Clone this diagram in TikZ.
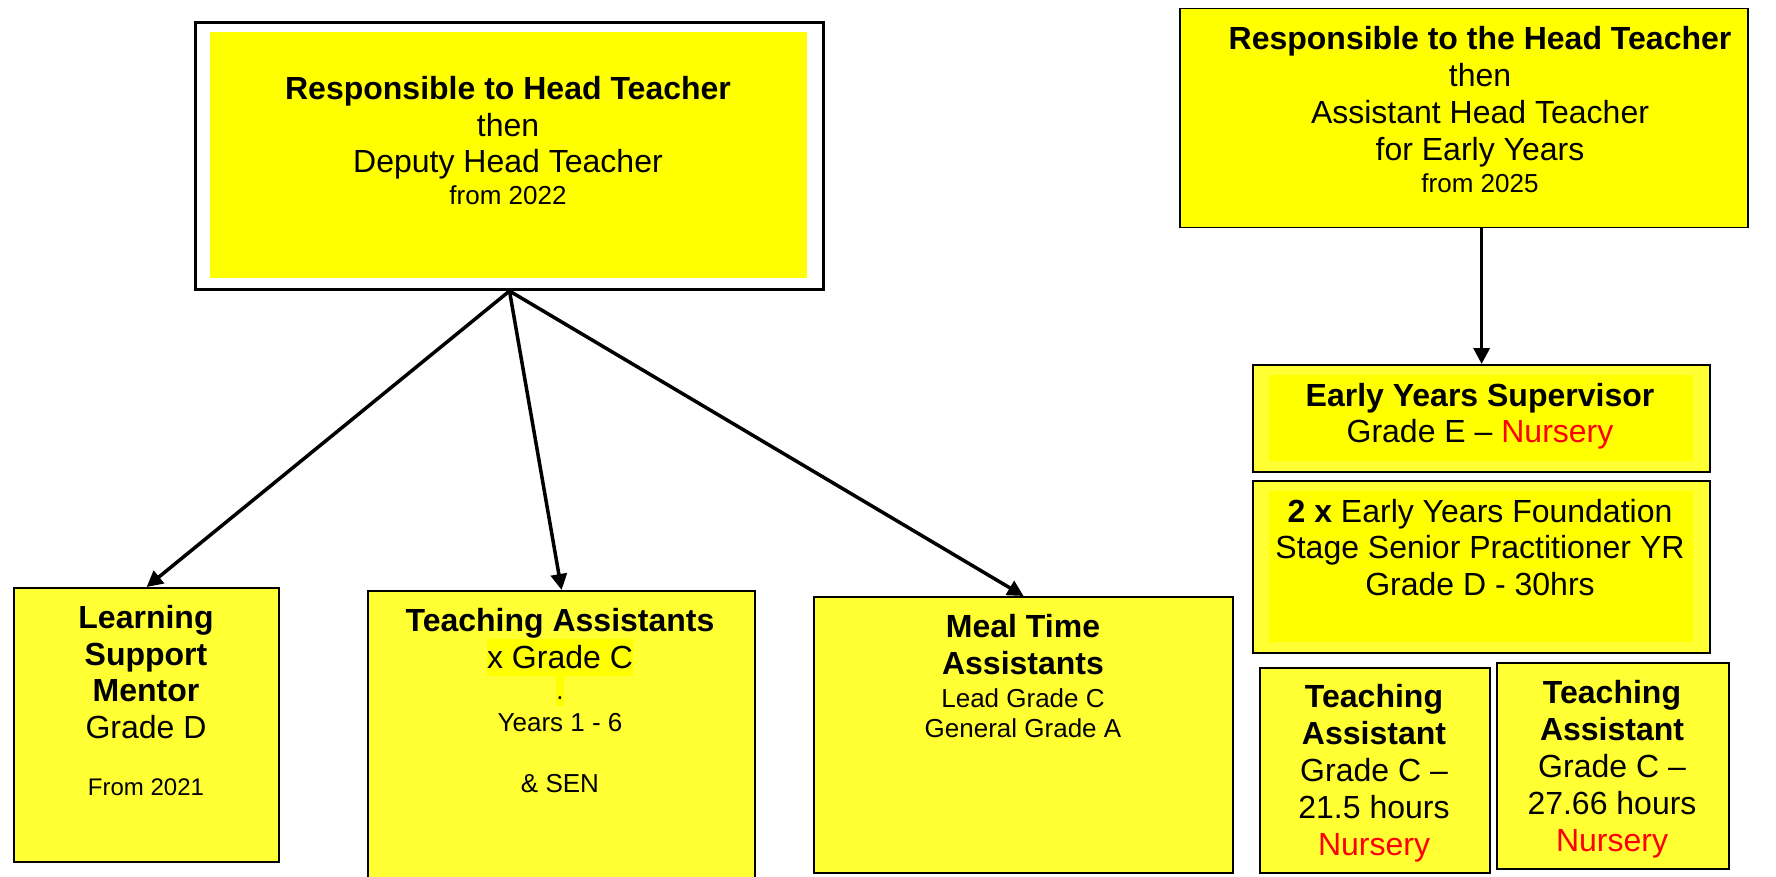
\documentclass[tikz,border=0pt]{standalone}
\usepackage{fontspec}
\setmainfont{Liberation Sans}
\usetikzlibrary{arrows.meta}
\definecolor{ylw}{HTML}{FFFF00}
\definecolor{lyl}{HTML}{FFFF33}
\definecolor{nred}{HTML}{FF0000}
\setlength{\fboxsep}{0pt}
\newcommand{\bigf}{\fontsize{32}{36.8}\selectfont\lineskiplimit=-60pt\relax}
\newcommand{\smf}{\fontsize{26}{30}\selectfont}
\begin{document}
\begin{tikzpicture}[x=1pt,y=-1pt,
  box/.style={draw=black, line width=2.2pt, fill=lyl, anchor=north west, inner sep=0pt},
  pane/.style={fill=ylw, anchor=north west, inner sep=0pt},
  lbl/.style={anchor=north, align=center, inner sep=0pt, text=black, font=\bigf},
  arr/.style={line width=3.5pt, -{Triangle[length=16pt,width=16pt]}},
]
\useasboundingbox (0,0) rectangle (1776,877);

% top-left box
\node[box, fill=white, line width=3pt, minimum width=628pt, minimum height=267pt] (tl) at (194,21) {};
\node[pane, minimum width=597pt, minimum height=246pt] (tlin) at (210,32) {};
\node[lbl] (tltext) at (508,76) {\textbf{Responsible to Head Teacher}\\ then\\ Deputy Head Teacher\\[-5pt] {\smf from 2022}};

% top-right box
\node[box, fill=ylw, line width=1.5pt, minimum width=568pt, minimum height=219pt] (tr) at (1179,8) {};
\node[lbl] (trtext) at (1480,26.5) {\textbf{Responsible to the Head Teacher}\\ then\\ Assistant Head Teacher\\ for Early Years\\[-5pt] {\smf from 2025}};

% early years supervisor
\node[box, minimum width=457pt, minimum height=107pt] (eys) at (1252,364) {};
\node[pane, minimum width=424pt, minimum height=86pt] (eysin) at (1269,375) {};
\node[lbl] (eystext) at (1480,382.8) {\textbf{Early Years Supervisor}\\ Grade E – \textcolor{nred}{Nursery}};

% 2 x EYFS
\node[box, minimum width=457pt, minimum height=172pt] (eyfs) at (1252,480) {};
\node[pane, minimum width=424pt, minimum height=151pt] (eyfsin) at (1269,491) {};
\node[lbl] (eyfstext) at (1480,498.8) {\textbf{2 x} Early Years Foundation\\[-0.3pt] Stage Senior Practitioner YR\\[-0.3pt] Grade D - 30hrs};

% teaching assistants (nursery)
\node[box, minimum width=230pt, minimum height=205pt] (tal) at (1259,667) {};
\node[lbl] (taltext) at (1374,684.5) {\textbf{Teaching}\\ \textbf{Assistant}\\ Grade C –\\ 21.5 hours\\ \textcolor{nred}{Nursery}};
\node[box, minimum width=232pt, minimum height=206pt] (tar) at (1496,662) {};
\node[lbl] (tartext) at (1612,680.5) {\textbf{Teaching}\\ \textbf{Assistant}\\ Grade C –\\ 27.66 hours\\ \textcolor{nred}{Nursery}};

% learning support mentor
\node[box, minimum width=265pt, minimum height=274pt] (lsm) at (13,587) {};
\node[lbl] (lsmtext) at (146,605) {\textbf{Learning}\\ \textbf{Support}\\ \textbf{Mentor}\\ Grade D\\[20.3pt] {\fontsize{24}{28}\selectfont From 2021}};

% teaching assistants
\node[box, minimum width=387pt, minimum height=300pt] (tas) at (367,590) {};
\node[lbl] (tastext) at (560,608) {\textbf{Teaching Assistants}\\[0.2pt] \colorbox{ylw}{\rule[-7.5pt]{0pt}{37pt}x Grade C}\\[-5.8pt] {\smf\colorbox{ylw}{\rule[-7pt]{0pt}{31pt}.}}\\[-4.8pt] {\smf Years 1 - 6}\\[24.7pt] {\smf \& SEN}};

% meal time assistants
\node[box, minimum width=419pt, minimum height=276pt] (meal) at (813,596) {};
\node[lbl] (mealtext) at (1023,614) {\textbf{Meal Time}\\ \textbf{Assistants}\\[-3.8pt] {\smf Lead Grade C}\\[-6.8pt] {\smf General Grade A}};

% connectors
\draw[arr] (tl.south) -- (lsm.north);
\draw[arr] (tl.south) -- (tas.north);
\draw[arr] (tl.south) -- (meal.north);
\draw[arr] (eys.north |- tr.south) -- (eys.north);
\end{tikzpicture}
\end{document}
